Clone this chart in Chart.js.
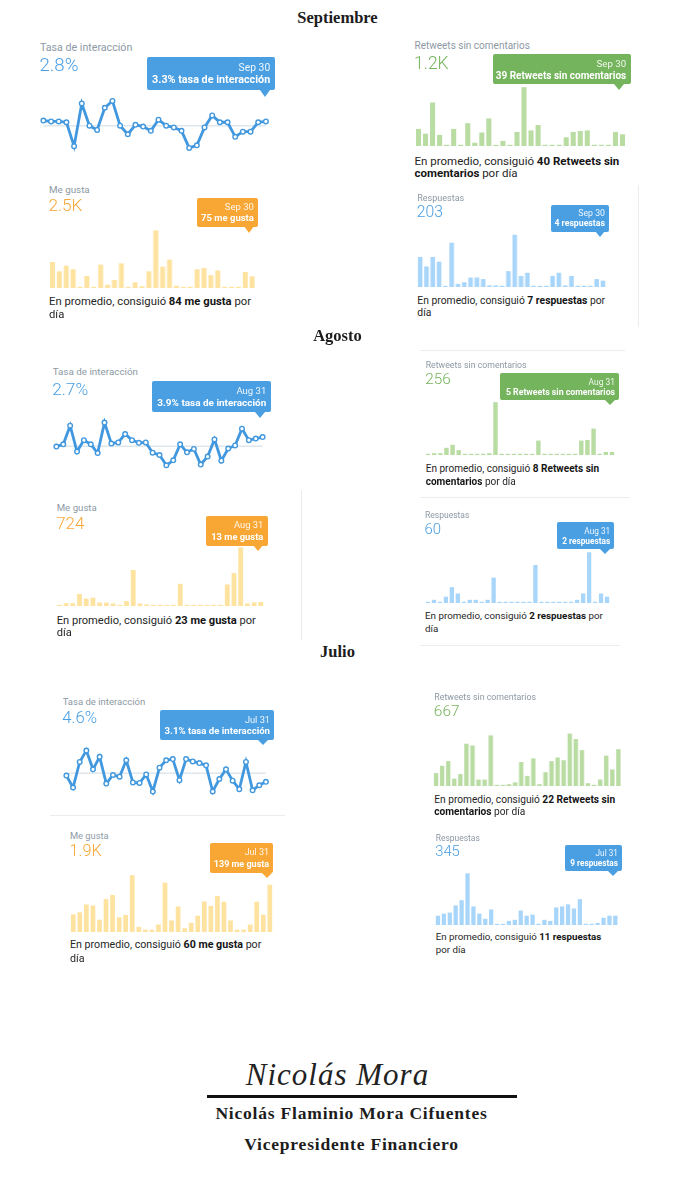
<!DOCTYPE html>
<html>
<head>
<meta charset="utf-8">
<script src="https://cdn.jsdelivr.net/npm/chart.js@4"></script>
<style>
  body { margin: 0; width: 675px; height: 1200px; background: #fff; position: relative; overflow: hidden; font-family: Roboto, "Noto Sans", sans-serif; }
  .t { position: absolute; white-space: nowrap; }
  .t b { font-weight: 700; color: #151515; }
  .box { position: absolute; border-radius: 2px; }
  .rule { position: absolute; background: #e9edf0; }
  .serif { position: absolute; left: 0; width: 675px; text-align: center; font-family: "Liberation Serif", "DejaVu Serif", serif; font-weight: 700; color: #1c1c1c; white-space: nowrap; }
</style>
</head>
<body>
<script>
// ---- Septiembre ----
const sepLabels = Array.from({ length: 30 }, (_, i) => 'Sep ' + (i + 1));
const sepTasa = [3.4, 3.3, 3.3, 3.2, 0.4, 5.4, 2.8, 2.3, 4.9, 5.7, 2.8, 1.8, 2.9, 2.7, 2.2, 3.5, 2.8, 2.6, 2.2, 0.2, 0.5, 2.6, 4.0, 3.2, 3.2, 1.5, 2.1, 2.1, 3.2, 3.3];
const sepRetweets = [57, 41, 145, 37, 3, 57, 2, 76, 11, 45, 92, 2, 17, 2, 47, 196, 52, 70, 1, 1, 1, 29, 47, 50, 52, 1, 1, 1, 47, 39];
const sepMeGusta = [167, 107, 143, 120, 6, 77, 3, 150, 21, 51, 158, 3, 36, 11, 107, 370, 137, 182, 15, 3, 3, 120, 128, 83, 113, 3, 3, 3, 103, 75];
const sepRespuestas = [19, 13, 19, 16, 0, 28, 2, 3, 6, 6, 5, 1, 1, 0, 10, 33, 7, 9, 0, 0, 0, 7, 9, 1, 7, 0, 0, 0, 5, 4];
const sepTotales = ['2.8%', '1.2K', '2.5K', '203'];
const sepPromedios = [2.8, 40, 84, 7];

// ---- Agosto ----
const augLabels = Array.from({ length: 31 }, (_, i) => 'Aug ' + (i + 1));
const augTasa = [2.65, 2.95, 5.4, 2.0, 3.5, 2.95, 1.8, 5.8, 3.05, 3.2, 4.3, 3.5, 3.15, 3.2, 1.85, 1.55, 0.2, 0.85, 2.95, 1.9, 2.35, 0.3, 1.35, 3.6, 0.8, 2.4, 2.8, 5.0, 3.5, 3.7, 3.9];
const augRetweets = [1, 3, 3, 12, 17, 8, 0, 0, 0, 0, 3, 88, 2, 1, 1, 1, 1, 1, 24, 1, 1, 1, 1, 1, 1, 24, 25, 44, 0, 5, 5];
const augMeGusta = [1, 9, 9, 39, 24, 27, 11, 11, 8, 2, 16, 117, 8, 5, 2, 2, 2, 2, 72, 1, 1, 3, 1, 3, 1, 70, 107, 190, 8, 12, 13];
const augRespuestas = [0, 1, 0, 2, 5, 3, 0, 1, 1, 0, 1, 8, 0, 0, 0, 0, 0, 0, 12, 0, 0, 0, 0, 0, 0, 1, 3, 16, 0, 3, 2];
const augTotales = ['2.7%', '256', '724', '60'];
const augPromedios = [2.7, 8, 23, 2];

// ---- Julio ----
const julLabels = Array.from({ length: 31 }, (_, i) => 'Jul ' + (i + 1));
const julTasa = [4.2, 2.1, 6.6, 8.6, 5.3, 7.5, 2.8, 4.3, 4.0, 6.9, 3.0, 2.9, 4.4, 1.4, 5.6, 6.9, 7.1, 3.4, 7.1, 6.7, 6.4, 6.0, 1.4, 3.6, 5.3, 3.3, 1.8, 6.6, 1.6, 2.5, 3.1];
const julRetweets = [14, 22, 27, 8, 13, 46, 44, 7, 7, 55, 1, 1, 2, 4, 26, 11, 30, 2, 15, 27, 31, 28, 57, 51, 39, 3, 1, 7, 33, 18, 40];
const julMeGusta = [52, 58, 81, 78, 36, 97, 109, 43, 50, 167, 15, 7, 7, 22, 145, 34, 75, 11, 27, 48, 90, 77, 106, 89, 34, 7, 7, 22, 89, 51, 139];
const julRespuestas = [9, 11, 12, 19, 24, 50, 18, 11, 6, 15, 1, 1, 4, 5, 14, 9, 10, 1, 5, 4, 17, 18, 20, 16, 25, 1, 1, 2, 7, 9, 9];
const julTotales = ['4.6%', '667', '1.9K', '345'];
const julPromedios = [4.6, 22, 60, 11];

const BLUE = '#4a9fe3', GREEN = '#74b45c', ORANGE = '#f8a634';
const BAR = { blue: '#a8d5fa', green: '#b9dca3', orange: '#fee3a0' };
const LINE = '#4298de';

function el(cls, css, html) {
  const d = document.createElement('div');
  d.className = cls;
  d.style.cssText = css;
  if (html !== undefined) d.innerHTML = html;
  document.body.appendChild(d);
  return d;
}

function text(x, cy, size, html, color, extra) {
  const lh = Math.round(size * 1.25);
  return el('t', `left:${x}px;top:${cy - lh / 2}px;font-size:${size}px;line-height:${lh}px;color:${color};${extra || ''}`, html);
}

function canvasAt(left, top, w, h) {
  const d = el('', `position:absolute;left:${left}px;top:${top}px;width:${w}px;height:${h}px`);
  const c = document.createElement('canvas');
  d.appendChild(c);
  return c;
}

const baseOpts = {
  animation: false,
  responsive: true,
  maintainAspectRatio: false,
  events: [],
  plugins: { legend: { display: false }, tooltip: { enabled: false } }
};

function barChart(p, labels, values, color) {
  const bp = 0.72, n = values.length, h = 85;
  const w = (p.last - p.first) / (n - 1 + bp);
  const cv = canvasAt(p.first - (1 - bp) / 2 * w, p.base - h, n * w, h);
  new Chart(cv, {
    type: 'bar',
    data: { labels, datasets: [{ data: values, backgroundColor: color, barPercentage: bp, categoryPercentage: 1, minBarLength: 1.2 }] },
    options: { ...baseOpts, layout: { padding: 0 },
      scales: { x: { display: false }, y: { display: false, min: 0, max: h / p.ppu } } }
  });
}

function lineChart(p, labels, values, avg) {
  const pad = 5;
  const min = p.refV - (p.bottom - p.refY) / p.ppu;
  const max = p.refV + (p.refY - p.top) / p.ppu;
  const cv = canvasAt(p.first - pad, p.top - pad, p.last - p.first + 2 * pad, p.bottom - p.top + 2 * pad);
  new Chart(cv, {
    type: 'line',
    data: { labels, datasets: [
      { data: values, borderColor: LINE, borderWidth: 2.8, tension: 0, clip: false,
        pointRadius: 2.3, pointBackgroundColor: '#fff', pointBorderColor: LINE, pointBorderWidth: 1.4 },
      { data: labels.map(() => avg), borderColor: '#dfe6ec', borderWidth: 1.5, pointRadius: 0, clip: false }
    ] },
    options: { ...baseOpts, layout: { padding: pad },
      scales: { x: { display: false }, y: { display: false, min, max } } }
  });
}

function tooltipBox(t, k, color, date, bold, boldSize) {
  const [l, tp, r, b] = t.box, h = b - tp;
  el('box', `left:${l}px;top:${tp}px;width:${r - l}px;height:${h}px;background:${color}`);
  el('', `position:absolute;left:${t.pt[0] - 5}px;top:${b - 0.5}px;width:0;height:0;border-left:5px solid transparent;border-right:5px solid transparent;border-top:${t.pt[1] - b + 0.5}px solid ${color}`);
  const rightPx = 675 - r + 4.5 * k;
  const s1 = 9.7 * k, s2 = boldSize * k;
  el('t', `right:${rightPx}px;top:${tp + 0.32 * h - s1 * 0.62}px;font-size:${s1}px;line-height:${Math.round(s1 * 1.25)}px;color:rgba(255,255,255,0.9)`, date);
  el('t', `right:${rightPx}px;top:${tp + 0.7 * h - s2 * 0.62}px;font-size:${s2}px;line-height:${Math.round(s2 * 1.25)}px;color:#fff;font-weight:700`, bold);
}

const pre = 'En promedio, consiguió ';
const panels = [
  // Septiembre
  { kind: 'line', k: 1.067, x: 40, ly: 47.7, ny: 65.7, title: 'Tasa de interacción', total: sepTotales[0], color: BLUE,
    labels: sepLabels, values: sepTasa, avg: sepPromedios[0], unit: '% tasa de interacción', tipSize: 10.1,
    tip: { box: [146.7, 56.7, 275, 90], pt: [265, 96.7] },
    plot: { first: 42.7, last: 266, top: 95, bottom: 155, refV: 2.8, refY: 125.7, ppu: 8.667 } },
  { kind: 'bar', k: 1.0, x: 414.5, ly: 45.7, ny: 62.7, title: 'Retweets sin comentarios', total: sepTotales[1], color: GREEN, bar: BAR.green,
    labels: sepLabels, values: sepRetweets, unit: ' Retweets sin comentarios', tipSize: 10.0,
    tip: { box: [492.7, 54.3, 630.7, 84.3], pt: [619.3, 90] },
    plot: { first: 416, last: 625, base: 146, ppu: 0.3 },
    cap: [161, 173.3], lines: [pre + `<b>${sepPromedios[1]} Retweets sin</b>`, '<b>comentarios</b> por día'] },
  { kind: 'bar', k: 0.98, x: 49, ly: 190, ny: 205, title: 'Me gusta', total: sepTotales[2], color: ORANGE, bar: BAR.orange,
    labels: sepLabels, values: sepMeGusta, unit: ' me gusta', tipSize: 9.7,
    tip: { box: [197.3, 197.7, 258.3, 226.7], pt: [249, 233.3] },
    plot: { first: 50, last: 253.7, base: 287.7, ppu: 0.1558 },
    cap: [302.3, 315], lines: [pre + `<b>${sepPromedios[2]} me gusta</b> por`, 'día'] },
  { kind: 'bar', k: 0.9, x: 417.3, ly: 198.3, ny: 211.7, title: 'Respuestas', total: sepTotales[3], color: BLUE, bar: BAR.blue,
    labels: sepLabels, values: sepRespuestas, unit: ' respuestas', tipSize: 9.7,
    tip: { box: [550.7, 205, 609, 231.7], pt: [600, 237.3] },
    plot: { first: 418.3, last: 604.7, base: 286.7, ppu: 1.583 },
    cap: [300.7, 312.3], lines: [pre + `<b>${sepPromedios[3]} respuestas</b> por`, 'día'] },
  // Agosto
  { kind: 'line', k: 0.985, x: 52.7, ly: 372.3, ny: 389.3, title: 'Tasa de interacción', total: augTotales[0], color: BLUE,
    labels: augLabels, values: augTasa, avg: augPromedios[0], unit: '% tasa de interacción', tipSize: 10.1,
    tip: { box: [152.3, 381, 270.7, 412.3], pt: [260, 418.3] },
    plot: { first: 55.7, last: 262.7, top: 415, bottom: 472, refV: 3.9, refY: 437, ppu: 7.73 } },
  { kind: 'bar', k: 0.876, x: 425.7, ly: 365, ny: 379, title: 'Retweets sin comentarios', total: augTotales[1], color: GREEN, bar: BAR.green,
    labels: augLabels, values: augRetweets, unit: ' Retweets sin comentarios', tipSize: 10.0,
    tip: { box: [500, 373.3, 619, 400], pt: [610, 405] },
    plot: { first: 426, last: 614.3, base: 455, ppu: 0.6 },
    cap: [468.3, 481], lines: [pre + `<b>${augPromedios[1]} Retweets sin</b>`, '<b>comentarios</b> por día'] },
  { kind: 'bar', k: 0.967, x: 56.7, ly: 507.7, ny: 523.3, title: 'Me gusta', total: augTotales[2], color: ORANGE, bar: BAR.orange,
    labels: augLabels, values: augMeGusta, unit: ' me gusta', tipSize: 9.7,
    tip: { box: [206, 515.7, 267.7, 545.7], pt: [258.3, 551.7] },
    plot: { first: 57, last: 263.3, base: 606, ppu: 0.308 },
    cap: [621, 633.3], lines: [pre + `<b>${augPromedios[2]} me gusta</b> por`, 'día'] },
  { kind: 'bar', k: 0.853, x: 425, ly: 515, ny: 529, title: 'Respuestas', total: augTotales[3], color: BLUE, bar: BAR.blue,
    labels: augLabels, values: augRespuestas, unit: ' respuestas', tipSize: 9.7,
    tip: { box: [556.7, 522.3, 614, 549], pt: [605, 554.3] },
    plot: { first: 426, last: 609.3, base: 603.3, ppu: 3.17 },
    cap: [616, 629], lines: [pre + `<b>${augPromedios[3]} respuestas</b> por`, 'día'] },
  // Julio
  { kind: 'line', k: 0.953, x: 62.7, ly: 701.7, ny: 717.3, title: 'Tasa de interacción', total: julTotales[0], color: BLUE,
    labels: julLabels, values: julTasa, avg: julPromedios[0], unit: '% tasa de interacción', tipSize: 10.1,
    tip: { box: [160, 710, 274.3, 740], pt: [263.3, 745] },
    plot: { first: 66, last: 266.3, top: 745, bottom: 797, refV: 3.1, refY: 782, ppu: 5.77 } },
  { kind: 'bar', k: 0.884, x: 434.3, ly: 697.3, ny: 711.7, title: 'Retweets sin comentarios', total: julTotales[1], color: GREEN, bar: BAR.green,
    labels: julLabels, values: julRetweets, unit: ' Retweets sin comentarios',
    plot: { first: 434.3, last: 620, base: 786, ppu: 0.92 },
    cap: [799, 811.7], lines: [pre + `<b>${julPromedios[1]} Retweets sin</b>`, '<b>comentarios</b> por día'] },
  { kind: 'bar', k: 0.929, x: 70, ly: 835.7, ny: 851, title: 'Me gusta', total: julTotales[2], color: ORANGE, bar: BAR.orange,
    labels: julLabels, values: julMeGusta, unit: ' me gusta', tipSize: 9.7,
    tip: { box: [210, 843.3, 273.3, 873.3], pt: [267.3, 878.3] },
    plot: { first: 71, last: 272.3, base: 931.7, ppu: 0.34 },
    cap: [944, 958.3], lines: [pre + `<b>${julPromedios[2]} me gusta</b> por`, 'día'] },
  { kind: 'bar', k: 0.847, x: 435.7, ly: 838, ny: 851.3, title: 'Respuestas', total: julTotales[3], color: BLUE, bar: BAR.blue,
    labels: julLabels, values: julRespuestas, unit: ' respuestas', tipSize: 9.7,
    tip: { box: [565, 844.7, 621.7, 871.3], pt: [613.3, 876.3] },
    plot: { first: 436, last: 617.7, base: 924.7, ppu: 1.033 },
    cap: [937, 949.7], lines: [pre + `<b>${julPromedios[3]} respuestas</b>`, 'por día'] }
];

// faint screenshot edges
[[638, 185, 1, 142], [301, 490, 1, 150], [420, 350, 205, 1], [420, 497, 210, 1], [420, 645, 200, 1], [50, 815, 235, 1]]
  .forEach(([l, t, w, h]) => el('rule', `left:${l}px;top:${t}px;width:${w}px;height:${h}px`));

// charts first, text on top
panels.forEach(p => {
  if (p.kind === 'line') lineChart(p.plot, p.labels, p.values, p.avg);
  else barChart(p.plot, p.labels, p.values, p.bar);
});

panels.forEach(p => {
  const k = p.k;
  text(p.x, p.ly, 10 * k, p.title, '#8d99a5');
  text(p.x - 0.5, p.ny, 17.5 * k, p.total, p.color, 'font-weight:300');
  if (p.lines) {
    text(p.x, p.cap[0], 11.5 * k, p.lines[0], '#262626');
    text(p.x, p.cap[1], 11.5 * k, p.lines[1], '#262626');
  }
  if (p.tip) {
    const n = p.values.length;
    const v = p.values[n - 1];
    const val = p.kind === 'line' ? v.toFixed(1) : v;
    tooltipBox(p.tip, k, p.color, p.labels[n - 1], val + p.unit, p.tipSize);
  }
});

// section titles
el('serif', 'top:8px;font-size:16.5px;line-height:20px', 'Septiembre');
el('serif', 'top:326px;font-size:16.5px;line-height:20px', 'Agosto');
el('serif', 'top:642px;font-size:16.5px;line-height:20px', 'Julio');

// signature
el('serif', 'top:1056px;font-size:31px;line-height:38px;font-weight:400;font-style:italic;color:#222;letter-spacing:1px;left:0', 'Nicolás Mora');
el('', 'position:absolute;left:207px;top:1095px;width:310px;height:2.5px;background:#111');
el('serif', 'top:1102px;font-size:17.5px;line-height:22px;letter-spacing:0.8px;left:14px', 'Nicolás Flaminio Mora Cifuentes');
el('serif', 'top:1133px;font-size:17.5px;line-height:22px;letter-spacing:0.8px;left:14px', 'Vicepresidente Financiero');
</script>
</body>
</html>
